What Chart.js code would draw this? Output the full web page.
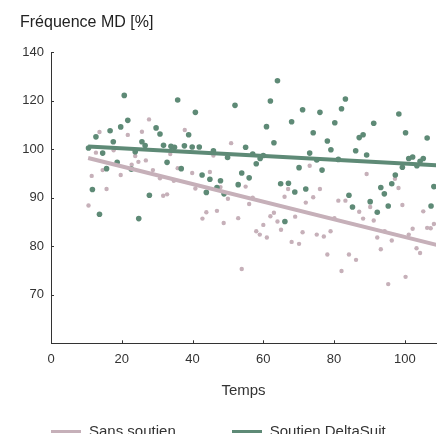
<!DOCTYPE html>
<html>
<head>
<meta charset="utf-8">
<script src="https://cdn.jsdelivr.net/npm/chart.js@4"></script>
<style>
  html, body { margin: 0; padding: 0; background: #fff; overflow: hidden; }
  #wrap { position: relative; width: 440px; height: 434px; overflow: hidden; }
  #legend { position: absolute; left: 51px; top: 422px; display: flex; font: 15px "Liberation Sans", Arial, sans-serif; color: #333; line-height: 18px; }
  #legend .item { display: flex; align-items: center; }
  #legend .swatch { width: 30px; height: 3px; margin-right: 8px; }
</style>
</head>
<body>
<div id="wrap">
  <canvas id="chart" width="440" height="434"></canvas>
  <div id="legend"></div>
</div>
<script>
// tick labels
const xTicks = [0, 20, 40, 60, 80, 100];
const yTicks = [70, 80, 90, 100, 120, 140];

// Sans soutien
const pinkX = [27.7, 13.7, 21.7, 25.7, 37.8, 12.7, 17.7, 23.8, 24.7, 26.8, 33.7, 22.8, 14.6, 19.7, 28.8, 35.8, 39.9, 11.5, 30.8, 34.7, 40.8, 15.7, 31.7, 32.8, 10.6, 42.8,
  50.9, 45.9, 73.1, 44.9, 47.9, 55.0, 67.0, 76.0, 50.0, 57.0, 66.0, 74.1, 56.0, 72.0, 46.9, 43.9, 52.9, 63.0, 62.0, 69.0, 48.8, 64.0, 60.0, 65.0, 58.0, 59.0, 61.0, 71.1, 75.1, 68.0, 70.1, 53.9,
  89.2, 97.2, 98.2, 81.2, 83.2, 90.2, 99.3, 87.1, 88.2, 91.2, 105.2, 108.2, 106.3, 107.3, 102.2, 101.1, 94.3, 80.1, 79.0, 77.1, 92.2, 96.3, 103.3, 104.3, 93.2, 78.1, 84.2, 86.2, 82.1, 100.2, 95.3];
const pinkY = [112.3, 107.1, 105.9, 107.2, 107.9, 99.3, 99.8, 98.6, 97.4, 97.7, 99.0, 96.8, 95.7, 94.7, 95.7, 96.1, 95.1, 94.5, 94.0, 93.5, 91.9, 91.8, 90.4, 90.7, 88.4, 85.7,
  102.5, 98.7, 96.6, 95.3, 92.2, 92.3, 91.8, 91.8, 89.8, 90.0, 90.2, 90.1, 88.7, 89.0, 87.3, 87.0, 85.8, 86.9, 86.2, 86.1, 84.8, 85.1, 84.4, 83.4, 83.1, 82.4, 81.8, 82.9, 82.4, 80.9, 80.5, 75.3,
  94.9, 93.9, 92.0, 89.4, 89.4, 88.1, 88.5, 87.1, 85.7, 85.3, 87.2, 84.6, 83.8, 83.7, 83.6, 82.4, 83.1, 85.8, 83.1, 82.0, 81.8, 81.2, 79.6, 78.6, 79.4, 78.3, 78.3, 77.2, 74.9, 73.7, 72.2];

// Soutien DeltaSuit
const greenX = [20.7, 35.8, 40.8, 21.7, 19.7, 16.7, 12.7, 29.7, 30.8, 38.9, 17.6, 25.7, 26.6, 10.6, 14.6, 23.8, 31.8, 33.9, 34.9, 37.7, 39.9, 41.9, 18.7, 32.8, 15.7, 22.7, 36.8, 42.7, 11.7, 27.8, 13.7, 24.8,
  64.0, 52.0, 62.0, 71.1, 76.0, 68.0, 60.9, 74.1, 63.0, 55.0, 45.9, 49.9, 57.0, 59.1, 60.0, 58.0, 73.1, 75.1, 70.1, 44.9, 47.9, 53.9, 56.0, 46.9, 52.9, 43.9, 48.9, 64.9, 67.1, 68.9, 72.0, 66.1, 76.6,
  83.2, 82.1, 80.2, 98.3, 91.2, 100.2, 106.3, 78.1, 87.1, 88.2, 79.1, 86.1, 89.2, 81.2, 101.1, 102.2, 99.3, 103.4, 104.3, 105.2, 97.3, 96.3, 93.2, 94.2, 84.2, 85.2, 90.2, 92.2, 95.3, 108.2, 107.4];
const greenY = [122.2, 120.3, 115.2, 111.9, 109.2, 107.6, 105.1, 108.8, 106.3, 106.0, 103.1, 103.1, 101.5, 100.5, 99.2, 99.5, 101.6, 101.2, 100.8, 101.4, 100.9, 100.9, 97.3, 97.3, 96.0, 95.9, 96.0, 94.7, 91.7, 90.5, 86.6, 85.7,
  128.2, 118.1, 119.9, 116.3, 115.2, 111.3, 109.3, 106.8, 102.7, 100.8, 99.7, 98.3, 99.0, 98.1, 98.7, 97.0, 99.2, 97.8, 96.2, 93.8, 93.5, 95.1, 94.1, 92.1, 92.7, 91.1, 90.8, 92.9, 93.0, 91.2, 91.8, 85.1, 95.7,
  120.7, 116.7, 110.9, 114.5, 110.7, 106.8, 104.6, 103.4, 104.8, 106.0, 99.9, 99.7, 98.8, 97.9, 98.1, 98.4, 96.3, 96.6, 97.5, 98.1, 94.7, 92.9, 92.1, 90.8, 90.5, 88.1, 89.2, 87.0, 88.3, 92.3, 88.3];

// trend lines (start / end)
const trendX = [10.5, 110];
const pinkTrend = [98.2, 80.1];
const greenTrend = [101.1, 96.65];

const pinkColor = '#c6b0b9';
const greenColor = '#5e8a76';

// the value axis is 10 per step up to 100, then 20 per step
function toAxis(v) {
  return v <= 100 ? (v - 60) / 10 : 4 + (v - 100) / 20;
}
function pts(xs, ys) {
  return xs.map((x, i) => ({ x: x, y: toAxis(ys[i]) }));
}

Chart.defaults.font.family = '"Liberation Sans", Arial, sans-serif';
Chart.defaults.color = '#333';

const innerTicks = {
  id: 'innerTicks',
  afterDraw(chart) {
    const ctx = chart.ctx;
    const xs = chart.scales.x, ys = chart.scales.y;
    const area = chart.chartArea;
    ctx.save();
    ctx.strokeStyle = '#333';
    ctx.lineWidth = 1;
    ctx.beginPath();
    xs.ticks.forEach(t => {
      const px = Math.round(xs.getPixelForValue(t.value)) + 0.5;
      ctx.moveTo(px, area.bottom);
      ctx.lineTo(px, area.bottom - 3);
    });
    ys.ticks.forEach(t => {
      const py = Math.round(ys.getPixelForValue(t.value)) + 0.5;
      ctx.moveTo(area.left, py);
      ctx.lineTo(area.left + 3, py);
    });
    ctx.stroke();
    ctx.restore();
  }
};

const chart = new Chart(document.getElementById('chart'), {
  type: 'scatter',
  data: {
    datasets: [
      {
        label: 'Sans soutien',
        data: pts(pinkX, pinkY),
        backgroundColor: pinkColor,
        borderWidth: 0,
        pointRadius: 2.2,
        order: 4
      },
      {
        label: 'Soutien DeltaSuit',
        data: pts(greenX, greenY),
        backgroundColor: greenColor,
        borderWidth: 0,
        pointRadius: 2.8,
        order: 3
      },
      {
        label: 'trend1',
        data: pts(trendX, pinkTrend),
        showLine: true,
        borderColor: pinkColor,
        borderWidth: 4,
        pointRadius: 0,
        order: 2
      },
      {
        label: 'trend2',
        data: pts(trendX, greenTrend),
        showLine: true,
        borderColor: greenColor,
        borderWidth: 4,
        pointRadius: 0,
        order: 1
      }
    ]
  },
  options: {
    responsive: false,
    animation: false,
    layout: { padding: { left: 20, top: 0, right: 0, bottom: 0 } },
    plugins: {
      legend: { display: false },
      tooltip: { enabled: false },
      title: {
        display: true,
        text: 'Fréquence MD [%]',
        align: 'start',
        color: '#222',
        font: { size: 16, weight: 'normal' },
        padding: { top: 13, bottom: 20 }
      }
    },
    scales: {
      x: {
        type: 'linear',
        min: 0,
        max: 108.8,
        grid: { display: false, drawTicks: false },
        border: { display: true, color: '#333', width: 1 },
        ticks: { padding: 8, font: { size: 13 }, color: '#333' },
        afterBuildTicks: s => { s.ticks = xTicks.map(v => ({ value: v })); },
        afterFit: s => { s.height = 90.7; },
        title: { display: true, text: 'Temps', font: { size: 15 }, color: '#333', padding: { top: 0, bottom: 34 } }
      },
      y: {
        type: 'linear',
        min: 0,
        max: 6,
        grid: { display: false, drawTicks: false },
        border: { display: true, color: '#333', width: 1 },
        ticks: { padding: 7, font: { size: 13 }, color: '#333', callback: (v, i) => yTicks[i] },
        afterBuildTicks: s => { s.ticks = yTicks.map(v => ({ value: toAxis(v) })); },
        afterFit: s => { s.width = 31; }
      }
    }
  },
  plugins: [innerTicks]
});

// legend from the two scatter series
const legend = document.getElementById('legend');
chart.data.datasets.slice(0, 2).forEach((ds, i) => {
  const item = document.createElement('div');
  item.className = 'item';
  if (i > 0) item.style.marginLeft = '56px';
  const sw = document.createElement('span');
  sw.className = 'swatch';
  sw.style.background = ds.backgroundColor;
  const txt = document.createElement('span');
  txt.textContent = ds.label;
  item.appendChild(sw);
  item.appendChild(txt);
  legend.appendChild(item);
});
</script>
</body>
</html>
